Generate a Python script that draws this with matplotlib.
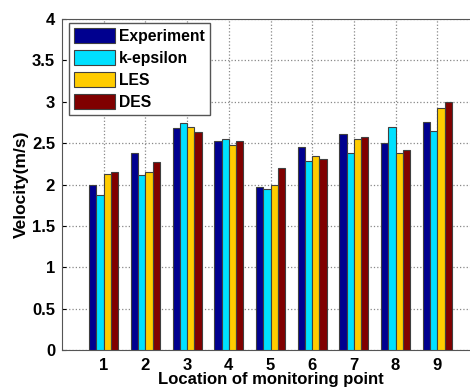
import matplotlib
matplotlib.use("Agg")
import matplotlib.pyplot as plt
import numpy as np

plt.rcParams['font.family'] = ['Liberation Sans', 'DejaVu Sans']
plt.rcParams['font.weight'] = 'bold'

points = [1, 2, 3, 4, 5, 6, 7, 8, 9]
series_names = ['Experiment', 'k-epsilon', 'LES', 'DES']
experiment = [2.00, 2.38, 2.68, 2.53, 1.97, 2.45, 2.61, 2.50, 2.76]
k_epsilon = [1.87, 2.11, 2.74, 2.55, 1.95, 2.28, 2.38, 2.69, 2.65]
les = [2.13, 2.15, 2.69, 2.48, 1.99, 2.34, 2.55, 2.38, 2.92]
des = [2.15, 2.27, 2.63, 2.53, 2.20, 2.31, 2.58, 2.42, 3.00]
colors = ['#00008F', '#00E0FF', '#FFCC00', '#800000']

fig = plt.figure(figsize=(4.7, 3.92), dpi=100)
ax = fig.add_axes([62/470, 42/392, 417/470, 331/392])

x = np.array(points, dtype=float)
w = 0.175
all_series = [experiment, k_epsilon, les, des]
for i, (vals, name, c) in enumerate(zip(all_series, series_names, colors)):
    ax.bar(x + (i - 1.5) * w, vals, width=w, color=c, edgecolor='#404040',
           linewidth=0.8, label=name, zorder=3)

ax.set_xlim(0, 10)
ax.set_ylim(0, 4)
ax.set_xticks(points)
ax.set_yticks(np.arange(0, 4.01, 0.5))
ax.set_yticklabels(['0', '0.5', '1', '1.5', '2', '2.5', '3', '3.5', '4'])
ax.grid(True, linestyle=':', color='#888888', linewidth=0.9, zorder=0)
ax.tick_params(direction='in', labelsize=12, length=3)
ax.tick_params(axis='x', pad=6)
ax.tick_params(axis='y', pad=5)
for lab in ax.get_xticklabels() + ax.get_yticklabels():
    lab.set_fontweight('bold')
for s in ax.spines.values():
    s.set_color('#555555')
ax.set_xlabel('Location of monitoring point', fontsize=12, fontweight='bold', labelpad=-1)
ax.set_ylabel('Velocity(m/s)', fontsize=12.5, fontweight='bold')
ax.yaxis.set_label_coords(-0.08, 0.5)

leg = ax.legend(loc='upper left', bbox_to_anchor=(0.017, 0.988), fancybox=False,
                edgecolor='#555555', framealpha=1, prop={'weight': 'bold', 'size': 11.3},
                handlelength=2.6, handleheight=1.1, labelspacing=0.4,
                borderpad=0.3, handletextpad=0.3, borderaxespad=0)
leg.get_frame().set_linewidth(1.0)

fig.savefig('out.png', dpi=100)
